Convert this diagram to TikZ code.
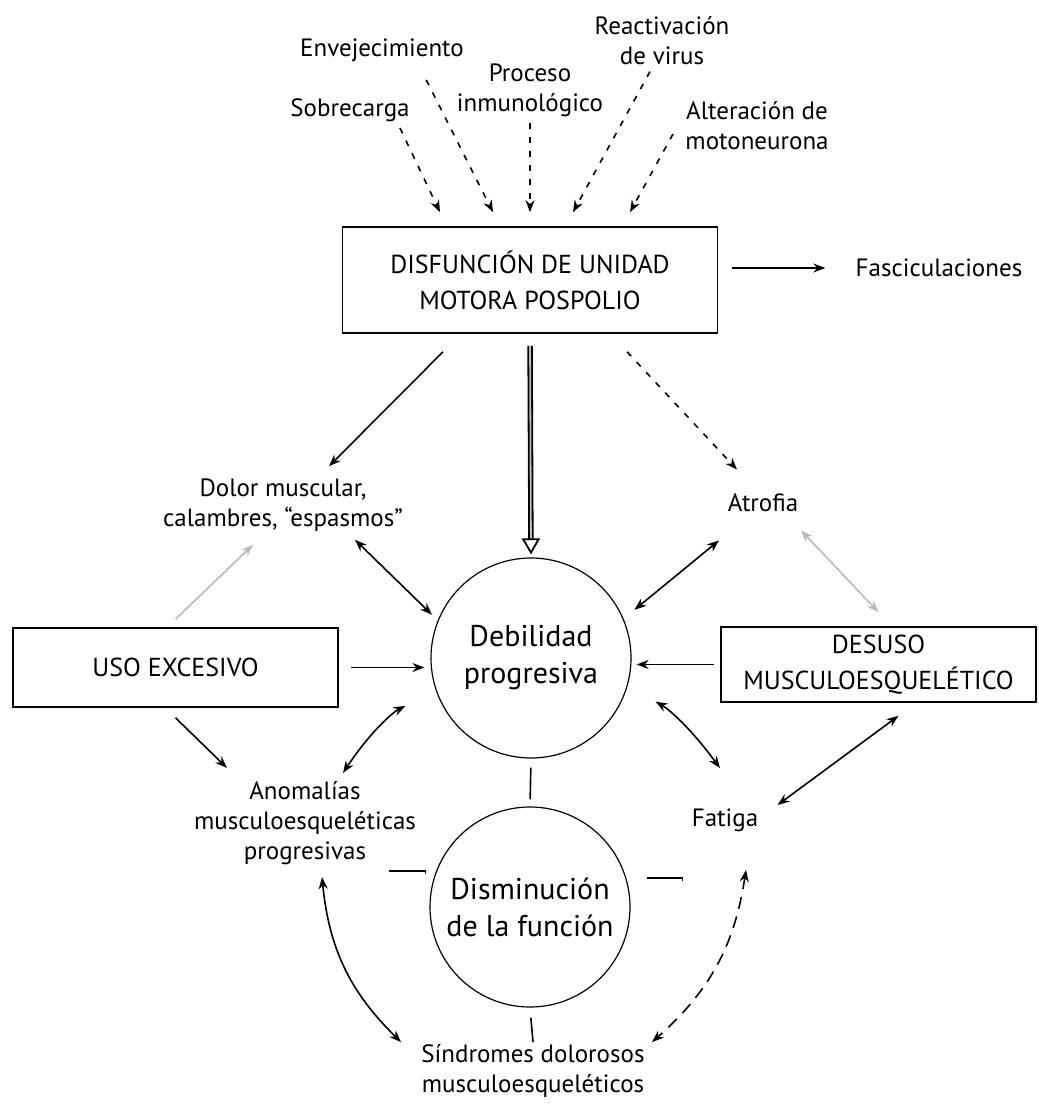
\documentclass[tikz,border=0pt]{standalone}
\usepackage{fontspec}
\setmainfont{PT Sans}
\usetikzlibrary{shapes,arrows.meta,positioning}

\begin{document}
\begin{tikzpicture}[x=0.5pt, y=0.5pt,
    lbl/.style={align=center, inner sep=3pt, font=\fontsize{12.5}{15}\selectfont},
    box/.style={rectangle, draw, line width=0.8pt, align=center, inner sep=0pt, font=\fontsize{13}{18}\selectfont},
    circ/.style={circle, draw, line width=0.6pt, minimum size=100pt, inner sep=0pt, align=center, font=\fontsize{15}{18.5}\selectfont},
    arrow/.style={-{Stealth[length=6pt, width=4.5pt]}, line width=0.8pt},
    dblarrow/.style={{Stealth[length=6pt, width=4.5pt]}-{Stealth[length=6pt, width=4.5pt]}, line width=0.8pt},
    dasharrow/.style={arrow, dash pattern=on 3pt off 4pt},
    tie/.style={line width=0.8pt},
    hollow/.style={double=gray!50, double distance=0.9pt, line width=0.9pt, -{Triangle[open, length=8pt, width=9pt]}}
]
    \useasboundingbox (0,0) rectangle (1038,-1112);

    % Causes on top
    \node[lbl] (reactiv) at (662,-41) {Reactivación\\de virus};
    \node[lbl] (envejec) at (382,-50) {Envejecimiento};
    \node[lbl] (proceso) at (530,-90) {Proceso\\inmunológico};
    \node[lbl] (sobre) at (350,-110) {Sobrecarga};
    \node[lbl] (alter) at (757,-126) {Alteración de\\motoneurona};
    \node[box, minimum width=187.5pt, minimum height=53pt] (disf) at (530,-280) {DISFUNCIÓN DE UNIDAD\\MOTORA POSPOLIO};
    \node[lbl] (fasc) at (939,-268) {Fasciculaciones};

    \draw[dasharrow] ([xshift=-8pt]sobre.south east) -- ([xshift=-45pt,yshift=7pt]disf.north);
    \draw[dasharrow] ([xshift=-22pt,yshift=-6pt]envejec.south east) -- ([xshift=-18.5pt,yshift=7pt]disf.north);
    \draw[dasharrow] (proceso.south) -- ([yshift=7pt]disf.north);
    \draw[dasharrow] ([xshift=-6pt]reactiv.south) -- ([xshift=21.5pt,yshift=7pt]disf.north);
    \draw[dasharrow] ([xshift=-3pt,yshift=-4pt]alter.west) -- ([xshift=50pt,yshift=7pt]disf.north);
    \draw[arrow, shorten <=7pt, shorten >=12pt] (disf.east |- fasc) -- (fasc);

    % Middle row
    \node[lbl] (dolor) at (283,-505) {Dolor muscular,\\calambres, “espasmos”};
    \node[lbl] (atrofia) at (763,-503) {Atrofia};
    \node[circ] (deb) at (531,-658) {Debilidad\\progresiva};
    \node[box, minimum width=162.5pt, minimum height=39.5pt] (uso) at (175.5,-667.5) {USO EXCESIVO};
    \node[box, minimum width=157.5pt, minimum height=37.5pt] (desuso) at (878.5,-664.5) {DESUSO\\MUSCULOESQUELÉTICO};

    \draw[arrow] ([xshift=-43.5pt,yshift=-9pt]disf.south) -- ([xshift=23pt,yshift=3pt]dolor.north);
    \draw[hollow, shorten <=6pt, shorten >=1.5pt] (disf.south) -- (deb.north);
    \draw[dasharrow] ([xshift=48.5pt,yshift=-9pt]disf.south) -- ([xshift=-13pt,yshift=9pt]atrofia.north);

    \draw[arrow, gray!55] ([yshift=4pt]uso.north) -- ([xshift=-15pt,yshift=-3.5pt]dolor.south);
    \draw[dblarrow, shorten >=4pt] ([xshift=36pt,yshift=-1pt]dolor.south) -- (deb.158);
    \draw[arrow, shorten <=6pt, shorten >=3pt] (uso.east) -- (uso.east -| deb.west);
    \draw[dblarrow, shorten >=7pt] ([xshift=-22pt,yshift=-11pt]atrofia.south) -- (deb.23);
    \draw[dblarrow, gray!55] ([xshift=19pt,yshift=-6pt]atrofia.south) -- ([yshift=7pt]desuso.north);
    \draw[arrow, shorten <=3pt, shorten >=2.5pt] (desuso.west) -- (desuso.west -| deb.east);

    % Lower part
    \node[lbl] (anomal) at (305,-823) {Anomalías\\musculoesqueléticas\\progresivas};
    \node[lbl] (fatiga) at (725,-820) {Fatiga};
    \node[circ] (dism) at (530,-907) {Disminución\\de la función};
    \node[lbl, inner sep=1pt] (sind) at (533,-1071) {Síndromes dolorosos\\musculoesqueléticos};

    \draw[arrow] ([yshift=-5pt]uso.south) -- ([xshift=-39pt,yshift=3.5pt]anomal.north);
    \draw[dblarrow, shorten >=17pt] ([xshift=19pt,yshift=1pt]anomal.north) to[bend left=15] (deb.199);
    \draw[dblarrow, shorten <=16pt] (deb.-16) to[bend left=12] ([xshift=-2.5pt,yshift=17pt]fatiga.north);
    \draw[dblarrow] ([xshift=10pt,yshift=-6.5pt]desuso.south) -- ([xshift=6.5pt,yshift=7.5pt]fatiga.east);

    \draw[tie, shorten <=4.5pt, shorten >=3.5pt] (deb.south) -- (dism.north);
    \draw[tie, shorten <=5pt] (dism.south) -- (sind.north);
    \draw[tie] ([xshift=-2pt,yshift=16.5pt]dism.west) -- ++(0,1.5pt) -- ++(-18pt,0);
    \draw[tie] ([xshift=8pt,yshift=14.5pt]dism.east) -- ++(18pt,0) -- ++(0,-1.5pt);

    \draw[dblarrow] ([xshift=8.5pt,yshift=-3pt]anomal.south) to[bend right=20] ([xshift=-9pt]sind.north west);
    \draw[dblarrow, dash pattern=on 6pt off 4pt] ([xshift=10.5pt,yshift=-16pt]fatiga.south) to[bend left=20] ([xshift=2.5pt]sind.north east);

\end{tikzpicture}
\end{document}
